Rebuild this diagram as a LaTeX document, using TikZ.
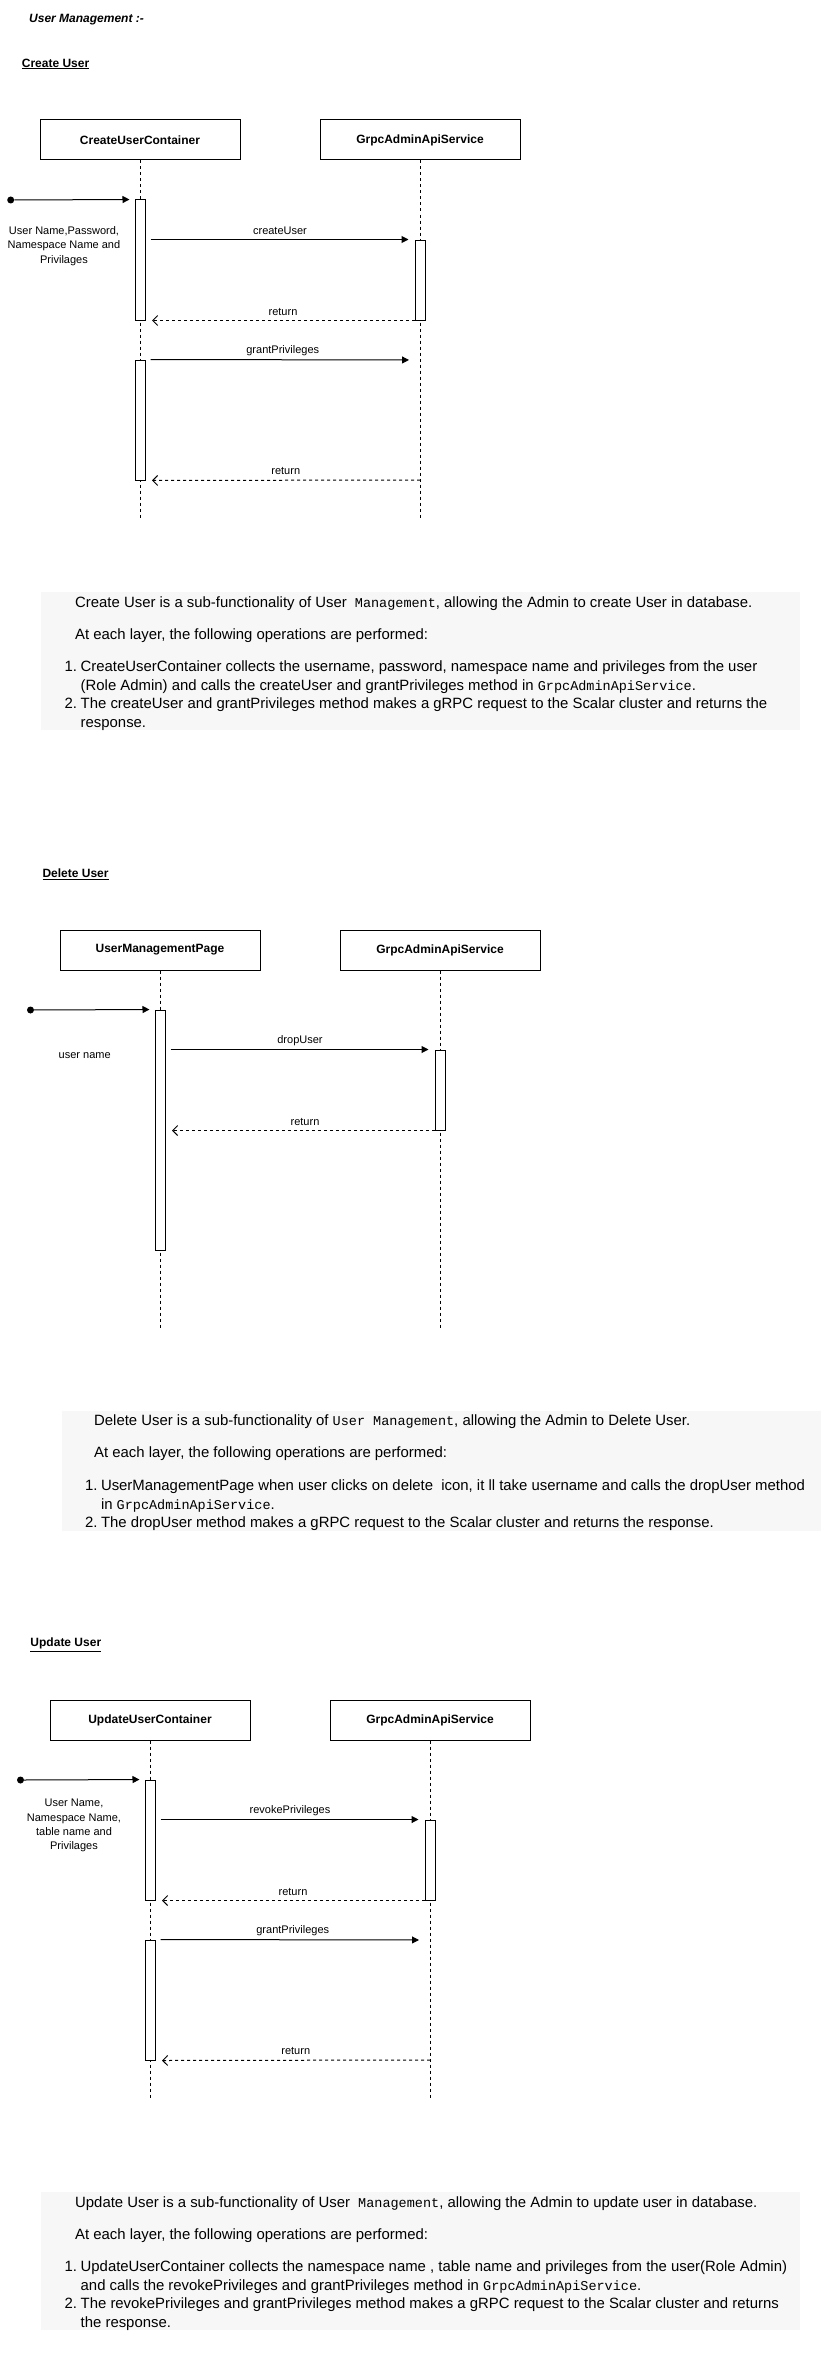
\documentclass[tikz,border=0pt]{standalone}
\usepackage{fontspec}
\setmainfont{Liberation Sans}
\setmonofont{Liberation Mono}
\usetikzlibrary{arrows.meta}

\definecolor{panelgray}{HTML}{F7F7F7}

\newcommand\diagfont{\fontsize{11}{14.3}\selectfont}
\newcommand\headfont{\fontsize{12}{14}\selectfont\bfseries}
\newcommand\parafont{\fontsize{14.9}{18.5}\selectfont}
\newcommand\code[1]{{\fontsize{13.5}{18.5}\selectfont\ttfamily #1}}

\tikzset{
  actor/.style={draw, line width=1pt, minimum width=200pt, minimum height=40pt, inner sep=0pt, font=\headfont},
  actbar/.style={draw, fill=white, line width=1pt, minimum width=10pt, inner sep=0pt},
  lifeline/.style={line width=1pt, dash pattern=on 3pt off 3pt},
  call/.style={line width=1pt, -{Triangle[length=7pt,width=7pt]}},
  reply/.style={line width=1pt, dash pattern=on 3pt off 3pt, -{Straight Barb[length=5pt,width=10pt,line width=1pt]}},
  startdot/.style={circle, fill=black, minimum size=7pt, inner sep=0pt},
  msglabel/.style={font=\diagfont, inner sep=0pt, yshift=9pt},
  note/.style={font=\diagfont, align=center, inner sep=0pt},
  sectitle/.style={anchor=west, inner sep=0pt, font=\headfont},
  textpanel/.style={fill=panelgray, draw=none, inner sep=0pt, anchor=north west},
  txt/.style={anchor=base west, inner sep=0pt, font=\parafont},
}

\begin{document}
\begin{tikzpicture}[x=1pt,y=-1pt]
\useasboundingbox (0,0) rectangle (821,2360);

% ---------------- page heading ----------------
\node[anchor=west, inner sep=0pt, font=\fontsize{12}{14}\selectfont\bfseries\itshape] (heading) at (29,20) {User Management :-};

% ================= Create User =================
\node[sectitle] (t1) at (21.7,64) {\underline{Create User}};

\node[actor] (A1) at (140,140) {CreateUserContainer};
\node[actor] (B1) at (420,140) {GrpcAdminApiService};
\coordinate (A1end) at (140,520);
\coordinate (B1end) at (420,520);
\draw[lifeline] (A1) -- (A1end);
\draw[lifeline] (B1) -- (B1end);

\node[actbar, minimum height=120pt] (a11) at (140,260) {};
\node[actbar, minimum height=80pt]  (b11) at (420,280) {};
\node[actbar, minimum height=120pt] (a12) at (140,420) {};

\node[startdot] (d1) at (10.7,200) {};
\draw[call, shorten >=5pt] (d1) -- (a11.north west);
\node[note] (n1) at (64,246) {User Name,Password,\\Namespace Name and\\Privilages};

\draw[call, shorten <=5pt, shorten >=6pt] (a11.east |- b11.north west) -- node[msglabel] {createUser} (b11.north west);
\draw[reply, shorten >=6.5pt] (b11.south west) -- node[msglabel, xshift=3pt] {return} (a11.south east);
\coordinate (g1) at (420,360);
\draw[call, shorten <=5pt, shorten >=11pt] (a12.north east) -- node[msglabel] {grantPrivileges} (g1);
\coordinate (r1) at (420,480);
\draw[reply, shorten >=6.5pt] (r1) -- node[msglabel, xshift=3pt] {return} (a12.south east);

% description
\node[textpanel, minimum width=759pt, minimum height=138pt] (p1) at (41,592) {};
\node[txt] (p1l1) at (75,607) {Create User is a sub-functionality of User\code{ Management}, allowing the Admin to create User in database.};
\node[txt] (p1l2) at (75,639.5) {At each layer, the following operations are performed:};
\node[txt] (p1n1) at (64.5,671.5) {1.};
\node[txt] (p1i1a) at (80.5,671.5) {CreateUserContainer collects the username, password, namespace name and privileges from the user};
\node[txt] (p1i1b) at (80.5,690) {(Role Admin) and calls the createUser and grantPrivileges method in \code{GrpcAdminApiService}.};
\node[txt] (p1n2) at (64.5,708.5) {2.};
\node[txt] (p1i2a) at (80.5,708.5) {The createUser and grantPrivileges method makes a gRPC request to the Scalar cluster and returns the};
\node[txt] (p1i2b) at (80.5,727) {response.};

% ================= Delete User =================
\node[sectitle] (t2) at (42.3,874.7) {\underline{Delete User}};

\node[actor] (A2) at (160,950) {UserManagementPage};
\node[actor] (B2) at (440,950) {GrpcAdminApiService};
\coordinate (A2end) at (160,1330);
\coordinate (B2end) at (440,1330);
\draw[lifeline] (A2) -- (A2end);
\draw[lifeline] (B2) -- (B2end);

\node[actbar, minimum height=240pt] (a21) at (160,1130) {};
\node[actbar, minimum height=80pt]  (b21) at (440,1090) {};

\node[startdot] (d2) at (30.5,1010) {};
\draw[call, shorten >=5pt] (d2) -- (a21.north west);
\node[note] (n2) at (84.7,1055.5) {user name};

\draw[call, shorten <=5pt, shorten >=6pt] (a21.east |- b21.north west) -- node[msglabel] {dropUser} (b21.north west);
\draw[reply, shorten >=6.5pt] (b21.south west) -- node[msglabel, xshift=5pt] {return} (a21.east |- b21.south west);

% description
\node[textpanel, minimum width=759.5pt, minimum height=120pt] (p2) at (61.5,1411) {};
\node[txt] (p2l1) at (94,1425.5) {Delete User is a sub-functionality of \code{User Management}, allowing the Admin to Delete User.};
\node[txt] (p2l2) at (94,1457) {At each layer, the following operations are performed:};
\node[txt] (p2n1) at (84.8,1490.5) {1.};
\node[txt] (p2i1a) at (100.8,1490.5) {UserManagementPage when user clicks on delete\ \ icon, it ll take username and calls the dropUser method};
\node[txt] (p2i1b) at (100.8,1509.5) {in \code{GrpcAdminApiService}.};
\node[txt] (p2n2) at (84.8,1527.5) {2.};
\node[txt] (p2i2) at (100.8,1527.5) {The dropUser method makes a gRPC request to the Scalar cluster and returns the response.};

% ================= Update User =================
\node[sectitle] (t3) at (30.3,1644.7) {\underline{Update User}};

\node[actor] (A3) at (150,1720) {UpdateUserContainer};
\node[actor] (B3) at (430,1720) {GrpcAdminApiService};
\coordinate (A3end) at (150,2100);
\coordinate (B3end) at (430,2100);
\draw[lifeline] (A3) -- (A3end);
\draw[lifeline] (B3) -- (B3end);

\node[actbar, minimum height=120pt] (a31) at (150,1840) {};
\node[actbar, minimum height=80pt]  (b31) at (430,1860) {};
\node[actbar, minimum height=120pt] (a32) at (150,2000) {};

\node[startdot] (d3) at (20.5,1780) {};
\draw[call, shorten >=5pt] (d3) -- (a31.north west);
\node[note] (n3) at (74,1825.7) {User Name,\\Namespace Name,\\table name and\\Privilages};

\draw[call, shorten <=5pt, shorten >=6pt] (a31.east |- b31.north west) -- node[msglabel] {revokePrivileges} (b31.north west);
\draw[reply, shorten >=6.5pt] (b31.south west) -- node[msglabel, xshift=3pt] {return} (a31.south east);
\coordinate (g3) at (430,1940);
\draw[call, shorten <=5pt, shorten >=11pt] (a32.north east) -- node[msglabel] {grantPrivileges} (g3);
\coordinate (r3) at (430,2060);
\draw[reply, shorten >=6.5pt] (r3) -- node[msglabel, xshift=3pt] {return} (a32.south east);

% description
\node[textpanel, minimum width=759pt, minimum height=138pt] (p3) at (41,2192) {};
\node[txt] (p3l1) at (75,2207) {Update User is a sub-functionality of User\code{ Management}, allowing the Admin to update user in database.};
\node[txt] (p3l2) at (75,2239.5) {At each layer, the following operations are performed:};
\node[txt] (p3n1) at (64.5,2271.5) {1.};
\node[txt] (p3i1a) at (80.5,2271.5) {UpdateUserContainer collects the namespace name , table name and privileges from the user(Role Admin)};
\node[txt] (p3i1b) at (80.5,2290) {and calls the revokePrivileges and grantPrivileges method in \code{GrpcAdminApiService}.};
\node[txt] (p3n2) at (64.5,2308.5) {2.};
\node[txt] (p3i2a) at (80.5,2308.5) {The revokePrivileges and grantPrivileges method makes a gRPC request to the Scalar cluster and returns};
\node[txt] (p3i2b) at (80.5,2327) {the response.};

\end{tikzpicture}
\end{document}
